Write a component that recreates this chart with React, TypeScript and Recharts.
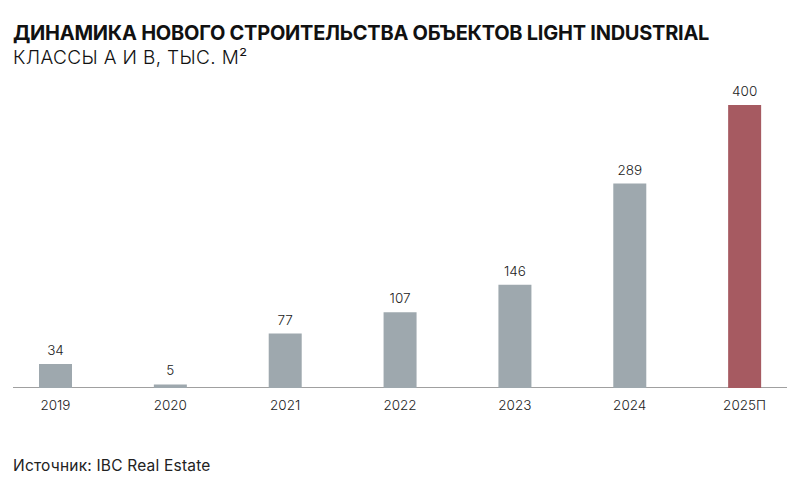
import React from "react";
import { BarChart, Bar, XAxis, YAxis, Cell, LabelList } from "recharts";

const categories = ["2019", "2020", "2021", "2022", "2023", "2024", "2025П"];
const values = [34, 5, 77, 107, 146, 289, 400];
const forecastFlags = [false, false, false, false, false, false, true];

const data = categories.map((c, i) => ({ year: c, value: values[i], forecast: forecastFlags[i] }));

const GRAY = "#9ea8ae";
const RED = "#a65a61";
const FONT = "Inter, 'Noto Sans', sans-serif";

export default function App() {
  return (
    <div style={{ position: "relative", width: 800, height: 499, margin: -8, overflow: "hidden", background: "#fff", fontFamily: FONT }}>
      <div style={{ position: "absolute", left: 13, top: 21, fontSize: 20, fontWeight: 700, color: "#111", letterSpacing: -0.25, whiteSpace: "nowrap" }}>
        ДИНАМИКА НОВОГО СТРОИТЕЛЬСТВА ОБЪЕКТОВ LIGHT INDUSTRIAL
      </div>
      <div style={{ position: "absolute", left: 13, top: 46, fontSize: 19, fontWeight: 300, color: "#111", letterSpacing: 0.35, whiteSpace: "nowrap" }}>
        КЛАССЫ А И В, ТЫС. М²
      </div>
      <div style={{ position: "absolute", left: 13, top: 456, fontSize: 15.5, fontWeight: 400, color: "#222", letterSpacing: 0.2, whiteSpace: "nowrap" }}>
        Источник: IBC Real Estate
      </div>
      <div style={{ position: "absolute", left: 13, top: 387, width: 774, height: 1, background: "#a0a0a0" }} />
      <div style={{ position: "absolute", left: -2, top: 0 }}>
        <BarChart width={804} height={499} data={data} margin={{ top: 105, right: 0, bottom: 81, left: 0 }}>
          <XAxis
            dataKey="year"
            axisLine={false}
            tickLine={false}
            height={30}
            interval={0}
            tick={{ fill: "#222", fontSize: 13.5, fontWeight: 300, fontFamily: FONT }}
            tickMargin={6}
          />
          <YAxis hide domain={[0, 400]} />
          <Bar dataKey="value" barSize={33} isAnimationActive={false}>
            {data.map((d, i) => (
              <Cell key={i} fill={d.forecast ? RED : GRAY} />
            ))}
            <LabelList dataKey="value" position="top" offset={9} style={{ fill: "#222", fontSize: 13.5, fontWeight: 300, fontFamily: FONT }} />
          </Bar>
        </BarChart>
      </div>
    </div>
  );
}
